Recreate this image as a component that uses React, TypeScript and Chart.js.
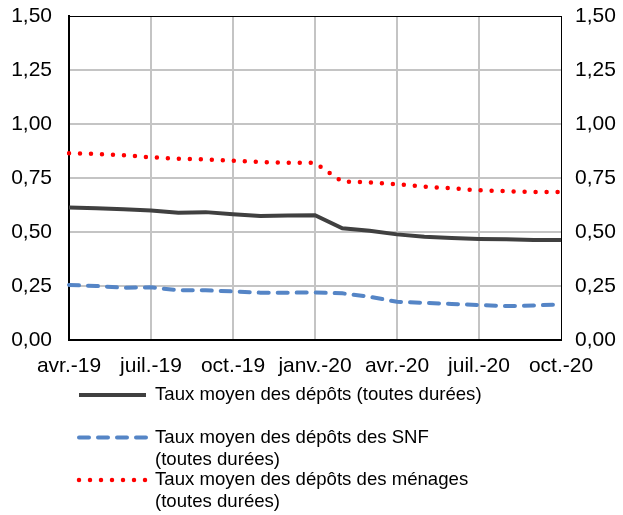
import React, { useEffect, useRef } from 'react';
import { Chart, registerables } from 'chart.js';
Chart.register(...registerables);

const months = ['avr.-19', 'mai-19', 'juin-19', 'juil.-19', 'août-19', 'sept.-19', 'oct.-19', 'nov.-19', 'déc.-19', 'janv.-20', 'févr.-20', 'mars-20', 'avr.-20', 'mai-20', 'juin-20', 'juil.-20', 'août-20', 'sept.-20', 'oct.-20'];
const tauxTotal = [0.614, 0.610, 0.605, 0.599, 0.589, 0.592, 0.582, 0.574, 0.576, 0.578, 0.517, 0.506, 0.489, 0.478, 0.472, 0.468, 0.466, 0.463, 0.463];
const tauxSNF = [0.255, 0.250, 0.242, 0.244, 0.230, 0.230, 0.225, 0.219, 0.219, 0.220, 0.216, 0.200, 0.177, 0.172, 0.167, 0.162, 0.157, 0.160, 0.165];
const tauxMenages = [0.865, 0.861, 0.855, 0.846, 0.839, 0.836, 0.830, 0.824, 0.821, 0.820, 0.733, 0.730, 0.721, 0.710, 0.702, 0.693, 0.689, 0.685, 0.685];
const labelTotal = ['Taux moyen des dépôts (toutes durées)'];
const labelSNF = ['Taux moyen des dépôts des SNF', '(toutes durées)'];
const labelMenages = ['Taux moyen des dépôts des ménages', '(toutes durées)'];
const yMin = 0;
const yMax = 1.5;
const yStep = 0.25;

const FONT = '"Liberation Sans", Arial, sans-serif';

const legendPlugin = {
  id: 'customLegend',
  afterDraw(chart: any) {
    const ctx = chart.ctx;
    const items = [
      { ds: chart.data.datasets[0], y: 395, lines: labelTotal },
      { ds: chart.data.datasets[1], y: 437.5, lines: labelSNF },
      { ds: chart.data.datasets[2], y: 480, lines: labelMenages },
    ];
    ctx.save();
    items.forEach((it) => {
      ctx.beginPath();
      ctx.strokeStyle = it.ds.borderColor;
      ctx.lineWidth = it.ds.borderWidth;
      ctx.setLineDash(it.ds.borderDash || []);
      ctx.lineCap = it.ds.borderCapStyle || 'butt';
      ctx.moveTo(79, it.y);
      ctx.lineTo(146, it.y);
      ctx.stroke();
      ctx.setLineDash([]);
      ctx.fillStyle = '#000';
      ctx.font = `18.6px ${FONT}`;
      ctx.textBaseline = 'middle';
      ctx.textAlign = 'left';
      it.lines.forEach((t, i) => ctx.fillText(t, 155, it.y + i * 22));
    });
    ctx.restore();
  },
};

export default function App() {
  const ref = useRef<HTMLCanvasElement>(null);
  useEffect(() => {
    document.body.style.margin = '0';
    const fmt = (v: any) => Number(v).toFixed(2).replace('.', ',');
    const chart = new Chart(ref.current!, {
      type: 'line',
      data: {
        labels: months,
        datasets: [
          {
            label: labelTotal.join(' '),
            data: tauxTotal,
            borderColor: '#404040',
            borderWidth: 4,
            pointRadius: 0,
            tension: 0,
            yAxisID: 'y',
          },
          {
            label: labelSNF.join(' '),
            data: tauxSNF,
            borderColor: '#5585C6',
            borderWidth: 4,
            borderDash: [10, 9],
            borderCapStyle: 'round',
            pointRadius: 0,
            tension: 0,
            yAxisID: 'y',
          },
          {
            label: labelMenages.join(' '),
            data: tauxMenages,
            borderColor: '#FF0000',
            borderWidth: 4.5,
            borderDash: [0, 11],
            borderCapStyle: 'round',
            pointRadius: 0,
            tension: 0,
            yAxisID: 'y',
          },
        ],
      },
      options: {
        responsive: false,
        animation: false,
        layout: { padding: { top: 16, left: 0, right: 0, bottom: 0 } },
        plugins: { legend: { display: false }, tooltip: { enabled: false } },
        scales: {
          x: {
            offset: false,
            afterFit: (s: any) => { s.height = 175; },
            border: { color: '#000', width: 2 },
            grid: {
              drawTicks: false,
              color: (c: any) => (c.index % 3 === 0 && c.index !== 0 && c.index !== months.length - 1 ? '#C4C4C4' : 'rgba(0,0,0,0)'),
              lineWidth: 2,
            },
            ticks: {
              autoSkip: false,
              maxRotation: 0,
              padding: 14,
              color: '#000',
              font: { family: FONT, size: 21 },
              callback: (_v: any, i: number) => (i % 3 === 0 ? months[i] : ''),
            },
          },
          y: {
            position: 'left',
            min: yMin,
            max: yMax,
            afterFit: (s: any) => { s.width = 69; s.paddingTop = 0; s.paddingBottom = 0; },
            border: { color: '#000', width: 2 },
            grid: {
              drawTicks: false,
              color: (c: any) => (c.tick && c.tick.value === yMax ? '#000' : c.tick && c.tick.value === yMin ? 'rgba(0,0,0,0)' : '#C4C4C4'),
              lineWidth: (c: any) => (c.tick && c.tick.value === yMax ? 1 : 2),
            },
            ticks: {
              stepSize: yStep,
              padding: 17,
              color: '#000',
              font: { family: FONT, size: 21 },
              callback: fmt,
            },
          },
          y1: {
            position: 'right',
            min: yMin,
            max: yMax,
            afterFit: (s: any) => { s.width = 62; s.paddingTop = 0; s.paddingBottom = 0; },
            border: { color: '#000', width: 1 },
            grid: { display: false, drawTicks: false },
            ticks: {
              stepSize: yStep,
              padding: 14,
              color: '#000',
              font: { family: FONT, size: 21 },
              callback: fmt,
            },
          },
        },
      },
      plugins: [legendPlugin],
    });
    return () => chart.destroy();
  }, []);
  return <canvas ref={ref} width={623} height={515} style={{ display: 'block' }} />;
}
